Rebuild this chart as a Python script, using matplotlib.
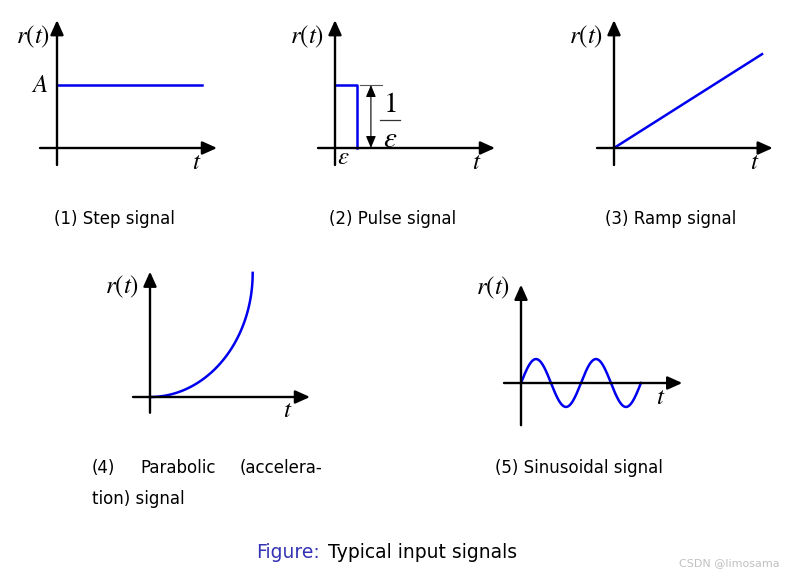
import numpy as np
import matplotlib
matplotlib.use("Agg")
import matplotlib.pyplot as plt

plt.rcParams['mathtext.fontset'] = 'stix'
plt.rcParams['font.family'] = ['DejaVu Sans']

W, H = 792, 576
BLUE = '#0000ee'
SCALE = 63.0  # pixels per data unit

# ---- data ----
step_level = 1.0          # A
step_end = 2.3
pulse_eps = 0.35
pulse_height = 1.0        # 1/eps
pulse_dim_x = 0.57
ramp_t = [0.0, 2.35]
ramp_r = [0.0, 1.49]
para_rx = 1.63            # curve width
para_ry = 1.97            # curve height
sin_amp = 0.38
sin_period = 0.952
sin_cycles = 2

captions = ["(1) Step signal", "(2) Pulse signal", "(3) Ramp signal",
            "(5) Sinusoidal signal"]

fig = plt.figure(figsize=(W / 100, H / 100), dpi=100)


def panel(ox, oy, x0, x1, y0, y1):
    left = (ox + x0 * SCALE) / W
    bottom = (H - (oy - y0 * SCALE)) / H
    ax = fig.add_axes([left, bottom, (x1 - x0) * SCALE / W, (y1 - y0) * SCALE / H])
    ax.set_xlim(x0, x1)
    ax.set_ylim(y0, y1)
    ax.axis('off')
    return ax


def axes_arrows(ax, xl, xr, yb, yt):
    kw = dict(arrowstyle='-|>,head_length=0.8,head_width=0.36', lw=1.7,
              color='black', mutation_scale=11, shrinkA=0, shrinkB=0)
    ax.annotate('', xy=(xr, 0), xytext=(xl, 0), arrowprops=kw, annotation_clip=False)
    ax.annotate('', xy=(0, yt), xytext=(0, yb), arrowprops=kw, annotation_clip=False)


MF = 18


def labels(ax, rx, ry, tx, ty):
    ax.text(rx, ry, r'$r(t)$', fontsize=MF, ha='center', va='center')
    ax.text(tx, ty, r'$t$', fontsize=MF, ha='center', va='center')


LW = 1.8

# Panel 1: step
ax1 = panel(57, 148, -0.6, 2.7, -0.4, 2.1)
axes_arrows(ax1, -0.27, 2.54, -0.27, 2.03)
ax1.plot([0, step_end], [step_level, step_level], color=BLUE, lw=LW)
ax1.text(-0.27, step_level, r'$A$', fontsize=MF, ha='center', va='center')
labels(ax1, -0.38, 1.76, 2.22, -0.22)

# Panel 2: pulse
ax2 = panel(335, 148, -0.6, 2.7, -0.4, 2.1)
axes_arrows(ax2, -0.27, 2.54, -0.27, 2.03)
ax2.plot([0, pulse_eps, pulse_eps], [pulse_height, pulse_height, 0], color=BLUE, lw=LW)
ax2.plot([0.4, 0.75], [pulse_height, pulse_height], color='#555555', lw=0.8)
ax2.annotate('', xy=(pulse_dim_x, pulse_height), xytext=(pulse_dim_x, 0),
             arrowprops=dict(arrowstyle='<|-|>,head_length=0.6,head_width=0.25',
                             lw=0.8, color='#555555', mutation_scale=12,
                             shrinkA=0, shrinkB=0, fc='black', ec='black'))
# fraction 1/eps label
ax2.text(0.87, 0.70, r'$1$', fontsize=21, ha='center', va='center')
ax2.plot([0.71, 1.03], [0.44, 0.44], color='#333333', lw=0.9)
ax2.text(0.87, 0.14, r'$\varepsilon$', fontsize=21, ha='center', va='center')
ax2.text(0.13, -0.15, r'$\varepsilon$', fontsize=18, ha='center', va='center')
labels(ax2, -0.44, 1.76, 2.25, -0.22)

# Panel 3: ramp
ax3 = panel(614, 148, -0.6, 2.7, -0.4, 2.1)
axes_arrows(ax3, -0.27, 2.52, -0.27, 2.03)
ax3.plot(ramp_t, ramp_r, color=BLUE, lw=LW)
labels(ax3, -0.44, 1.76, 2.24, -0.22)

# Panel 4: parabolic
ax4 = panel(150, 397, -0.6, 2.7, -0.4, 2.1)
axes_arrows(ax4, -0.27, 2.54, -0.25, 1.99)
th = np.linspace(0, np.pi / 2, 100)
ax4.plot(para_rx * np.sin(th), para_ry * (1 - np.cos(th)), color=BLUE, lw=LW)
labels(ax4, -0.44, 1.75, 2.19, -0.21)

# Panel 5: sinusoid
ax5 = panel(521, 383, -0.6, 2.7, -0.8, 1.7)
axes_arrows(ax5, -0.27, 2.56, -0.67, 1.56)
ts = np.linspace(0, sin_cycles * sin_period, 300)
ax5.plot(ts, sin_amp * np.sin(2 * np.pi * ts / sin_period), color=BLUE, lw=LW)
labels(ax5, -0.44, 1.51, 2.21, -0.22)

# captions
CF = 12
fig.text(114 / W, 1 - 219 / H, captions[0], fontsize=CF, ha='center', va='center')
fig.text(393 / W, 1 - 219 / H, captions[1], fontsize=CF, ha='center', va='center')
fig.text(671 / W, 1 - 219 / H, captions[2], fontsize=CF, ha='center', va='center')
fig.text(579 / W, 1 - 468 / H, captions[3], fontsize=CF, ha='center', va='center')
fig.text(92 / W, 1 - 468 / H, "(4)", fontsize=CF, ha='left', va='center')
fig.text(140 / W, 1 - 468 / H, "Parabolic", fontsize=CF, ha='left', va='center')
fig.text(322 / W, 1 - 468 / H, "(accelera-", fontsize=CF, ha='right', va='center')
fig.text(92 / W, 1 - 499 / H, "tion) signal", fontsize=CF, ha='left', va='center')

fig.text(320 / W, 1 - 552 / H, "Figure:", fontsize=13.5, ha='right', va='center',
         color='#3333b3')
fig.text(328 / W, 1 - 552 / H, "Typical input signals", fontsize=13.5, ha='left',
         va='center', color='black')
fig.text(780 / W, 1 - 563 / H, "CSDN @limosama", fontsize=8, ha='right', va='center',
         color='#c0c0c0')

fig.savefig('out.png', dpi=100)
